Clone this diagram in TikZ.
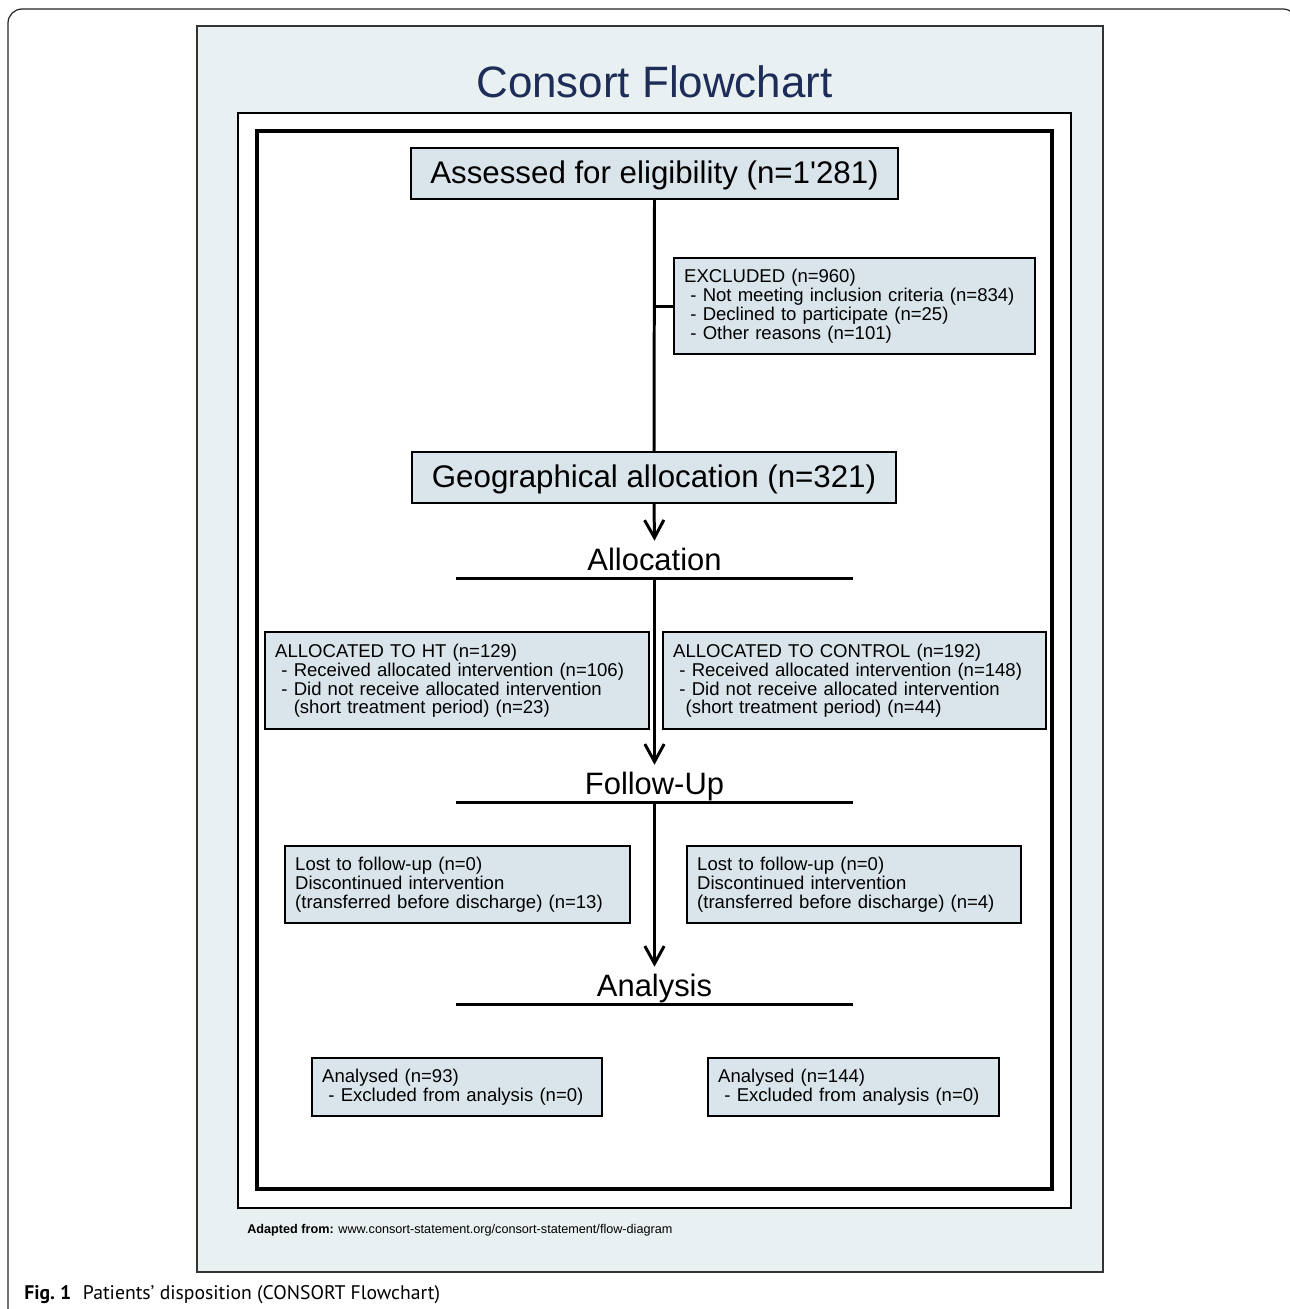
\documentclass[tikz,border=0pt]{standalone}
\usepackage{fontspec}
\setmainfont{Liberation Sans}
\newfontfamily\captionfont[Ligatures=TeX]{PT Sans}
\usetikzlibrary{arrows.meta}
\definecolor{panelfill}{RGB}{232,240,242}
\definecolor{boxfill}{RGB}{218,229,235}
\definecolor{titleblue}{RGB}{30,45,87}
\begin{document}
\begin{tikzpicture}[x = 0.02cm, y = -0.02cm,
  bigbox/.style = {draw, fill = boxfill, line width = 1.4pt, text depth = 1pt, font = \fontsize{17.8}{20}\selectfont},
  infobox/.style = {draw, fill = boxfill, line width = 1.4pt, anchor = north west, align = left,
    inner xsep = 0.2cm, font = \fontsize{10.55}{10.8}\selectfont},
  heading/.style = {inner sep = 0pt, minimum width = 7.94cm, text height = 17pt, text depth = 4pt,
    font = \fontsize{17.6}{20}\selectfont},
  rule/.style = {line width = 1.7pt},
  flow/.style = {line width = 1.7pt, -{Straight Barb[length = 10pt, width = 11pt]}}]
\useasboundingbox (0,0) rectangle (1290,1309);
\begin{scope}
\clip (0,0) rectangle (1290,1309);
\draw[rounded corners = 8pt, line width = 0.7pt, black!85] (8,1340) -- (8,9) -- (1297,9) -- (1297,1340);
\end{scope}
% frames
\filldraw[fill = panelfill, draw = black!80, line width = 0.9pt] (197,26) rectangle (1103,1272);
\filldraw[fill = white, line width = 1.3pt] (238,113) rectangle (1071,1208);
\draw[line width = 2.6pt] (257,131) rectangle (1052,1189);
\node[anchor = base, text = titleblue, font = \fontsize{25}{30}\selectfont] (title) at (654.5,97.5) {Consort Flowchart};
% enrolment
\node[bigbox, minimum width = 9.74cm, minimum height = 1.02cm] (assess) at (654.5,173.5) {Assessed for eligibility (n=1\textquotesingle 281)};
\node[infobox, text width = 6.82cm, minimum height = 1.92cm] (excl) at (673,257) {EXCLUDED (n=960)\\
\ - Not meeting inclusion criteria (n=834)\\
\ - Declined to participate (n=25)\\
\ - Other reasons (n=101)};
\node[bigbox, minimum width = 9.68cm, minimum height = 1.02cm] (geo) at (654,477.5) {Geographical allocation (n=321)};
\draw[line width = 1.7pt] (assess.south) -- (geo.north);
\draw[line width = 1.7pt] (excl.west) -- (excl.west -| assess.south);
% allocation
\node[heading] (alloc) at (654.5,559.5) {Allocation};
\draw[rule] (alloc.south west) -- (alloc.south east);
\draw[flow] (geo.south) -- (alloc.north);
\node[infobox, text width = 7.28cm, minimum height = 1.94cm] (ht) at (264,631) {ALLOCATED TO HT (n=129)\\
\ - Received allocated intervention (n=106)\\
\ - Did not receive allocated intervention\\
\ \ \ (short treatment period) (n=23)};
\node[infobox, text width = 7.26cm, minimum height = 1.94cm] (ctrl) at (662,631) {ALLOCATED TO CONTROL (n=192)\\
\ - Received allocated intervention (n=148)\\
\ - Did not receive allocated intervention\\
\ \ (short treatment period) (n=44)};
% follow-up
\node[heading] (follow) at (654.5,783.5) {Follow-Up};
\draw[rule] (follow.south west) -- (follow.south east);
\draw[flow] (alloc.south) -- (follow.north);
\node[infobox, text width = 6.50cm, minimum height = 1.54cm] (lostl) at (284,845) {Lost to follow-up (n=0)\\
Discontinued intervention\\
(transferred before discharge) (n=13)};
\node[infobox, text width = 6.28cm, minimum height = 1.54cm] (lostr) at (686,845) {Lost to follow-up (n=0)\\
Discontinued intervention\\
(transferred before discharge) (n=4)};
% analysis
\node[heading] (analysis) at (654.5,985.5) {Analysis};
\draw[rule] (analysis.south west) -- (analysis.south east);
\draw[flow] (follow.south) -- (analysis.north);
\node[infobox, text width = 5.40cm, minimum height = 1.16cm] (anal) at (311,1057) {Analysed (n=93)\\
\ - Excluded from analysis (n=0)};
\node[infobox, text width = 5.42cm, minimum height = 1.16cm] (anar) at (707,1057) {Analysed (n=144)\\
\ - Excluded from analysis (n=0)};
% source and caption
\node[anchor = base west, inner sep = 0pt, font = \fontsize{7.2}{8}\selectfont] (source) at (247,1233) {\textbf{Adapted from:} www.consort-statement.org/consort-statement/flow-diagram};
\node[anchor = base west, inner sep = 0pt, font = \captionfont\fontsize{11.2}{13}\selectfont] (caption) at (24,1299) {\textbf{Fig.~1}\hspace{0.6em}Patients’ disposition (CONSORT Flowchart)};
\end{tikzpicture}
\end{document}
